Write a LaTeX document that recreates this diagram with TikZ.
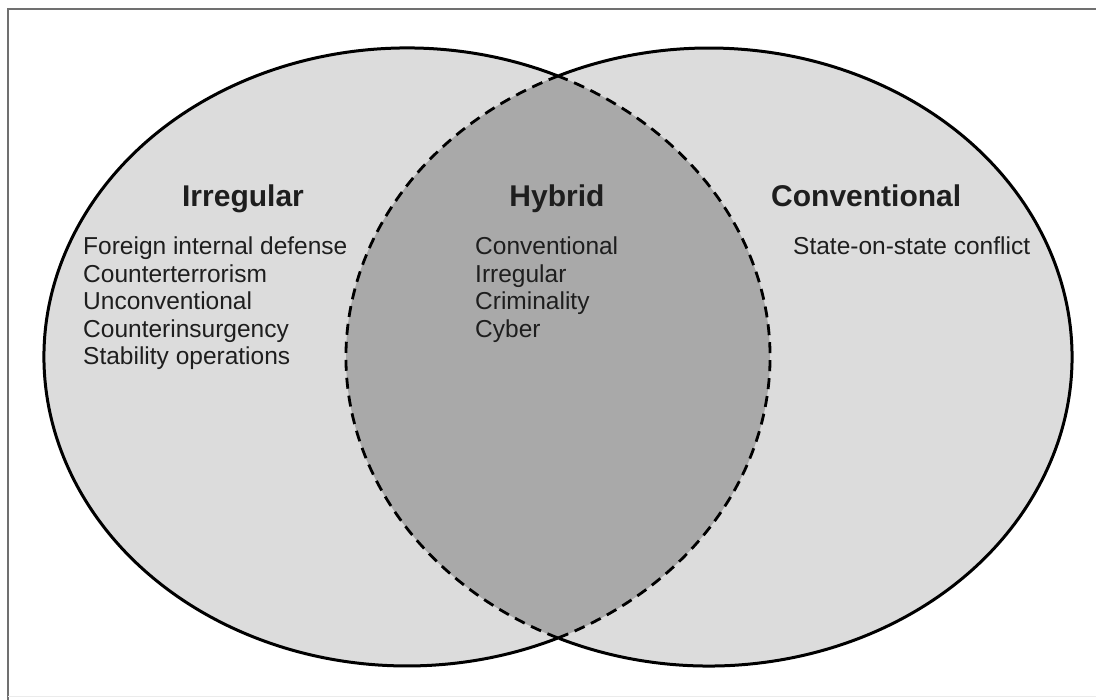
\documentclass[tikz,border=0pt]{standalone}
\usepackage{fontspec}
\usetikzlibrary{calc}
\setmainfont{Liberation Sans}
\definecolor{lightfill}{HTML}{DCDCDC}
\definecolor{lensfill}{HTML}{A9A9A9}
\definecolor{framegray}{HTML}{707070}
\definecolor{txt}{HTML}{1E1E1E}
\tikzset{
  titletext/.style={font=\fontsize{30}{34}\selectfont\bfseries, text=txt, inner sep=0pt},
  bodytext/.style={font=\fontsize{24.5}{27.5}\selectfont, text=txt, inner sep=0pt, anchor=base west},
  outline/.style={line width=3pt, black},
  lensline/.style={line width=2.8pt, black, dash pattern=on 11pt off 7pt},
}
\begin{document}
\begin{tikzpicture}[x=1pt,y=1pt]
\useasboundingbox (0,0) rectangle (1096,700);
% frame
\draw[framegray, line width=1.8pt] (8,0) -- (8,691) -- (1096,691);
\draw[black!8, line width=1pt] (8,3) -- (1096,3);
% ellipse fills
\fill[lightfill] (407,343) ellipse [x radius=363, y radius=309];
\fill[lightfill] (709,343) ellipse [x radius=363, y radius=309];
\begin{scope}
  \clip (407,343) ellipse [x radius=363, y radius=309];
  \fill[lensfill] (709,343) ellipse [x radius=363, y radius=309];
\end{scope}
% solid outer arcs
\draw[outline] ($(407,343)+(65.42:363 and 309)$) arc[start angle=65.42, end angle=294.58, x radius=363, y radius=309];
\draw[outline] ($(709,343)+(-114.42:363 and 309)$) arc[start angle=-114.42, end angle=114.42, x radius=363, y radius=309];
% dashed lens
\draw[lensline] ($(407,343)+(-65.42:363 and 309)$) arc[start angle=-65.42, end angle=65.42, x radius=363, y radius=309];
\draw[lensline] ($(709,343)+(114.42:363 and 309)$) arc[start angle=114.42, end angle=245.58, x radius=363, y radius=309];
% titles
\node[titletext, anchor=base] (tirr) at (243,493) {Irregular};
\node[titletext, anchor=base] (thyb) at (557,493) {Hybrid};
\node[titletext, anchor=base west] (tcon) at (771,493) {Conventional};
% irregular list
\node[bodytext] (i1) at (83,445) {Foreign internal defense};
\node[bodytext] (i2) at (83,417.5) {Counterterrorism};
\node[bodytext] (i3) at (83,390) {Unconventional};
\node[bodytext] (i4) at (83,362.5) {Counterinsurgency};
\node[bodytext] (i5) at (83,335) {Stability operations};
% hybrid list
\node[bodytext] (h1) at (475,445) {Conventional};
\node[bodytext] (h2) at (475,417.5) {Irregular};
\node[bodytext] (h3) at (475,390) {Criminality};
\node[bodytext] (h4) at (475,362.5) {Cyber};
% conventional list
\node[bodytext] (c1) at (793,445) {State-on-state conflict};
\end{tikzpicture}
\end{document}
